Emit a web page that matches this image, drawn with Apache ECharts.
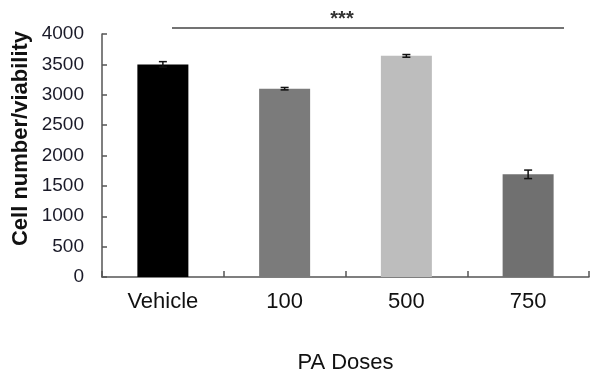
<!DOCTYPE html>
<html>
<head>
<meta charset="utf-8">
<script src="https://cdn.jsdelivr.net/npm/echarts@6/dist/echarts.min.js"></script>
<style>
  html, body { margin: 0; padding: 0; background: #fff; }
  #chart { width: 591px; height: 375px; }
</style>
</head>
<body>
<div id="chart"></div>
<script>
const doses = ['Vehicle', '100', '500', '750'];
const meanValues = [3500, 3100, 3640, 1690];
const errValues = [45, 20, 22, 70];
const barColors = ['#000000', '#7b7b7b', '#bdbdbd', '#707070'];
const yTicks = [0, 500, 1000, 1500, 2000, 2500, 3000, 3500, 4000];

const chart = echarts.init(document.getElementById('chart'));
const font = 'Liberation Sans, Arial, sans-serif';

const errData = meanValues.map((v, i) => [i, v - errValues[i], v + errValues[i]]);

chart.setOption({
  animation: false,
  backgroundColor: '#fff',
  grid: { left: 102, right: 2, top: 34, bottom: 98, containLabel: false, outerBoundsMode: 'none' },
  xAxis: {
    type: 'category',
    data: doses,
    name: 'PA Doses',
    nameLocation: 'middle',
    nameGap: 75,
    nameTextStyle: { fontFamily: font, fontSize: 22, color: '#111' },
    axisLine: { lineStyle: { color: '#555', width: 1.5 } },
    axisTick: { show: true, inside: true, length: 6, lineStyle: { color: '#555', width: 1.5 } },
    axisLabel: { fontFamily: font, fontSize: 22, color: '#111', margin: 14 }
  },
  yAxis: {
    type: 'value',
    min: yTicks[0],
    max: yTicks[yTicks.length - 1],
    interval: 500,
    name: 'Cell number/viability',
    nameLocation: 'middle',
    nameGap: 70,
    nameMoveOverlap: false,
    nameTextStyle: { fontFamily: font, fontSize: 22, fontWeight: 'bold', color: '#111', padding: [0, 0, 0, 34] },
    axisLine: { show: true, lineStyle: { color: '#555', width: 1.5 } },
    axisTick: { show: true, inside: true, length: 5, lineStyle: { color: '#555', width: 1.5 } },
    axisLabel: { fontFamily: font, fontSize: 19, color: '#1a1a28', margin: 18, formatter: v => String(v) },
    splitLine: { show: false }
  },
  series: [
    {
      type: 'bar',
      barWidth: 51,
      data: meanValues.map((v, i) => ({ value: v, itemStyle: { color: barColors[i] } }))
    },
    {
      type: 'custom',
      data: errData,
      z: 5,
      renderItem: function (params, api) {
        const x = api.value(0);
        const lo = api.coord([x, api.value(1)]);
        const hi = api.coord([x, api.value(2)]);
        const w = 4;
        const style = { stroke: '#111', lineWidth: 1.5 };
        return {
          type: 'group',
          children: [
            { type: 'line', shape: { x1: lo[0], y1: lo[1], x2: hi[0], y2: hi[1] }, style },
            { type: 'line', shape: { x1: lo[0] - w, y1: lo[1], x2: lo[0] + w, y2: lo[1] }, style },
            { type: 'line', shape: { x1: hi[0] - w, y1: hi[1], x2: hi[0] + w, y2: hi[1] }, style }
          ]
        };
      }
    }
  ],
  graphic: [
    { type: 'line', shape: { x1: 172, y1: 28, x2: 564, y2: 28 }, style: { stroke: '#444', lineWidth: 1.5 } },
    { type: 'text', x: 342, y: 19, style: { text: '***', fontFamily: font, fontSize: 20, fontWeight: 'bold', fill: '#333', align: 'center', verticalAlign: 'middle' } }
  ]
});
</script>
</body>
</html>
